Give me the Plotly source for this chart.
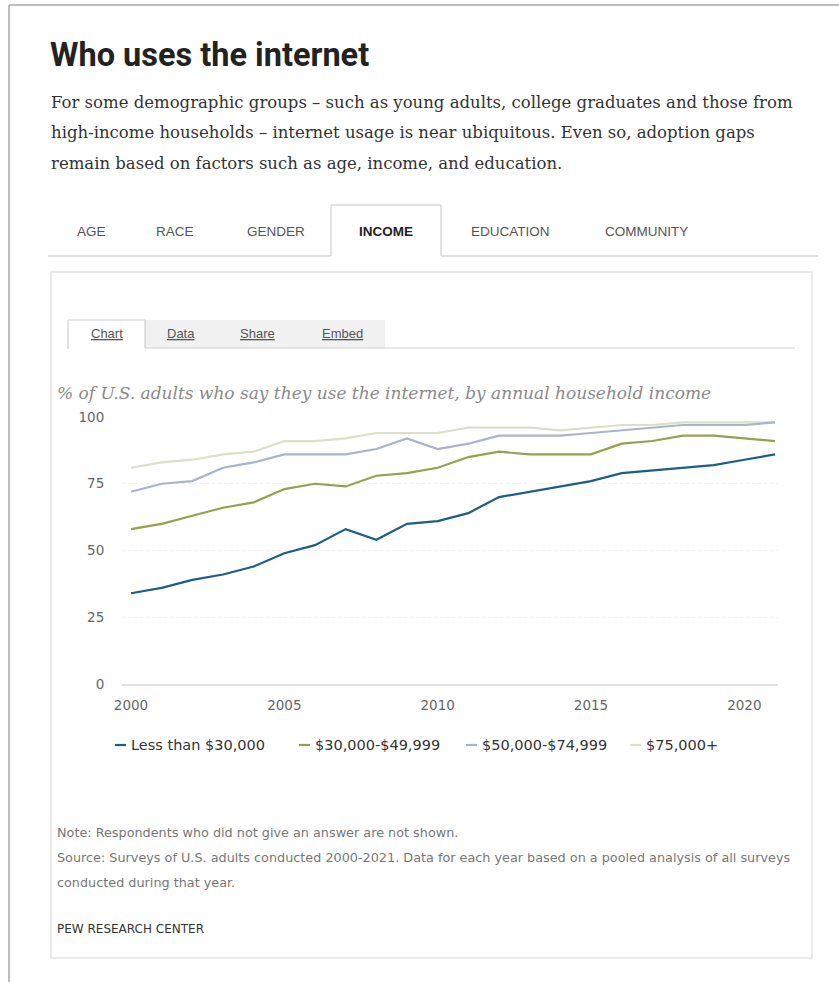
import plotly.graph_objects as go

W, H = 839, 982

years = list(range(2000, 2022))
series_names = ["Less than $30,000", "$30,000-$49,999", "$50,000-$74,999", "$75,000+"]
less_30k = [34, 36, 39, 41, 44, 49, 52, 58, 54, 60, 61, 64, 70, 72, 74, 76, 79, 80, 81, 82, 84, 86]
k30_50 = [58, 60, 63, 66, 68, 73, 75, 74, 78, 79, 81, 85, 87, 86, 86, 86, 90, 91, 93, 93, 92, 91]
k50_75 = [72, 75, 76, 81, 83, 86, 86, 86, 88, 92, 88, 90, 93, 93, 93, 94, 95, 96, 97, 97, 97, 98]
k75_plus = [81, 83, 84, 86, 87, 91, 91, 92, 94, 94, 94, 96, 96, 96, 95, 96, 97, 97, 98, 98, 98, 98]
series_values = [less_30k, k30_50, k50_75, k75_plus]
colors = ["#1d5f84", "#97a04e", "#a9b4cb", "#dcdfc9"]

y_ticks = [0, 25, 50, 75, 100]
x_ticks = [2000, 2005, 2010, 2015, 2020]

tabs = ["AGE", "RACE", "GENDER", "INCOME", "EDUCATION", "COMMUNITY"]
tab_x = [91, 175, 276, 386, 510, 646]
inner_tabs = ["Chart", "Data", "Share", "Embed"]
inner_tab_x = [107, 181, 257, 342]


def px(x):
    return x / W


def py(y):
    return 1 - y / H


fig = go.Figure()
for name, vals, col in reversed(list(zip(series_names, series_values, colors))):
    fig.add_trace(go.Scatter(x=years, y=vals, mode="lines", name=name,
                             line=dict(color=col, width=2.2), showlegend=False))

# plot area: x 122..778 px, y 417..684 px
x0p, x1p = 122, 778
y0p, y1p = 684, 417
xr0 = 2000 - (131 - x0p) / 30.67
xr1 = 2021 + (x1p - 775) / 30.67

fig.update_layout(
    width=W, height=H, autosize=False,
    margin=dict(l=0, r=0, t=0, b=0),
    paper_bgcolor="white", plot_bgcolor="white",
    xaxis=dict(domain=[px(x0p), px(x1p)], range=[xr0, xr1], tickvals=x_ticks,
               showgrid=False, zeroline=False, showline=True, linecolor="#e0e0e0", linewidth=2,
               ticks="outside", ticklen=8, tickcolor="rgba(0,0,0,0)",
               tickfont=dict(family="DejaVu Sans", size=13.5, color="#666"), automargin=False),
    yaxis=dict(domain=[py(y0p), py(y1p)], range=[0, 100], tickvals=y_ticks,
               showgrid=True, gridcolor="#f0f0f0", griddash="dot", gridwidth=1,
               zeroline=False, showline=False,
               ticks="outside", ticklen=14, tickcolor="rgba(0,0,0,0)",
               tickfont=dict(family="DejaVu Sans", size=13.5, color="#666"), automargin=False),
)

shapes = []
ann = []


def line(xa, ya, xb, yb, color="#d6d6d6", width=1.5):
    shapes.append(dict(type="line", xref="paper", yref="paper", x0=px(xa), y0=py(ya),
                       x1=px(xb), y1=py(yb), line=dict(color=color, width=width)))


def rect(xa, ya, xb, yb, fill, lc=None, lw=0):
    shapes.append(dict(type="rect", xref="paper", yref="paper", x0=px(xa), y0=py(ya),
                       x1=px(xb), y1=py(yb), fillcolor=fill,
                       line=dict(color=lc if lc else fill, width=lw), layer="below"))


def text(x, y, t, size, color, family, xanchor="left", yanchor="middle"):
    ann.append(dict(xref="paper", yref="paper", x=px(x), y=py(y), text=t, showarrow=False,
                    xanchor=xanchor, yanchor=yanchor,
                    font=dict(size=size, color=color, family=family)))


# outer frame
line(9, 5, 839, 5, "#bdbdbd", 2)
line(9, 5, 9, 982, "#bdbdbd", 2)

# title and subtitle
text(48, 55, "<b>Who uses the internet</b>", 32.5, "#222", "Roboto")
sub = ["For some demographic groups – such as young adults, college graduates and those from",
       "high-income households – internet usage is near ubiquitous. Even so, adoption gaps",
       "remain based on factors such as age, income, and education."]
for i, s in enumerate(sub):
    text(49, 103 + 30 * i, s, 16.5, "#333", "DejaVu Serif")

# top tabs
line(48, 256, 331, 256, "#d9d9d9", 1.5)
line(441, 256, 818, 256, "#d9d9d9", 1.5)
line(331, 205, 331, 256, "#d9d9d9", 1.5)
line(441, 205, 441, 256, "#d9d9d9", 1.5)
line(331, 205, 441, 205, "#d9d9d9", 1.5)
for t, x in zip(tabs, tab_x):
    if t == "INCOME":
        text(x, 231, "<b>" + t + "</b>", 13.5, "#222", "Liberation Sans", xanchor="center")
    else:
        text(x, 231, t, 13.5, "#555", "Liberation Sans", xanchor="center")

# inner box
rect(51, 272, 812, 958, "white", "#e2e2e2", 1.5)

# inner tabs
rect(145, 320, 385, 348, "#f1f1f1")
line(145, 348, 795, 348, "#cfcfcf", 1.2)
line(68, 320, 145, 320, "#cfcfcf", 1.2)
line(68, 320, 68, 349, "#cfcfcf", 1.2)
line(145, 320, 145, 348, "#cfcfcf", 1.2)
for t, x in zip(inner_tabs, inner_tab_x):
    text(x, 334, "<u>" + t + "</u>", 13, "#555", "Liberation Sans", xanchor="center")

# chart subtitle
text(55, 393, "<i>% of U.S. adults who say they use the internet, by annual household income</i>",
     17, "#8a8a8a", "DejaVu Serif")

# legend (manual)
leg_x = [115, 299, 466, 630]
for name, col, x in zip(series_names, colors, leg_x):
    line(x, 745, x + 11, 745, col, 2.2)
    text(x + 14, 745, name, 14.5, "#333", "DejaVu Sans")

# notes
notes = ["Note: Respondents who did not give an answer are not shown.",
         "Source: Surveys of U.S. adults conducted 2000-2021. Data for each year based on a pooled analysis of all surveys",
         "conducted during that year."]
for i, n in enumerate(notes):
    text(55, 832 + 25 * i, n, 12.8, "#777", "DejaVu Sans")
text(55, 929, "PEW RESEARCH CENTER", 12, "#333", "DejaVu Sans")

fig.update_layout(shapes=shapes, annotations=ann)
fig.write_html("out.html", config={"displayModeBar": False},
               post_script="document.body.style.margin='0px';document.body.style.overflow='hidden';")
